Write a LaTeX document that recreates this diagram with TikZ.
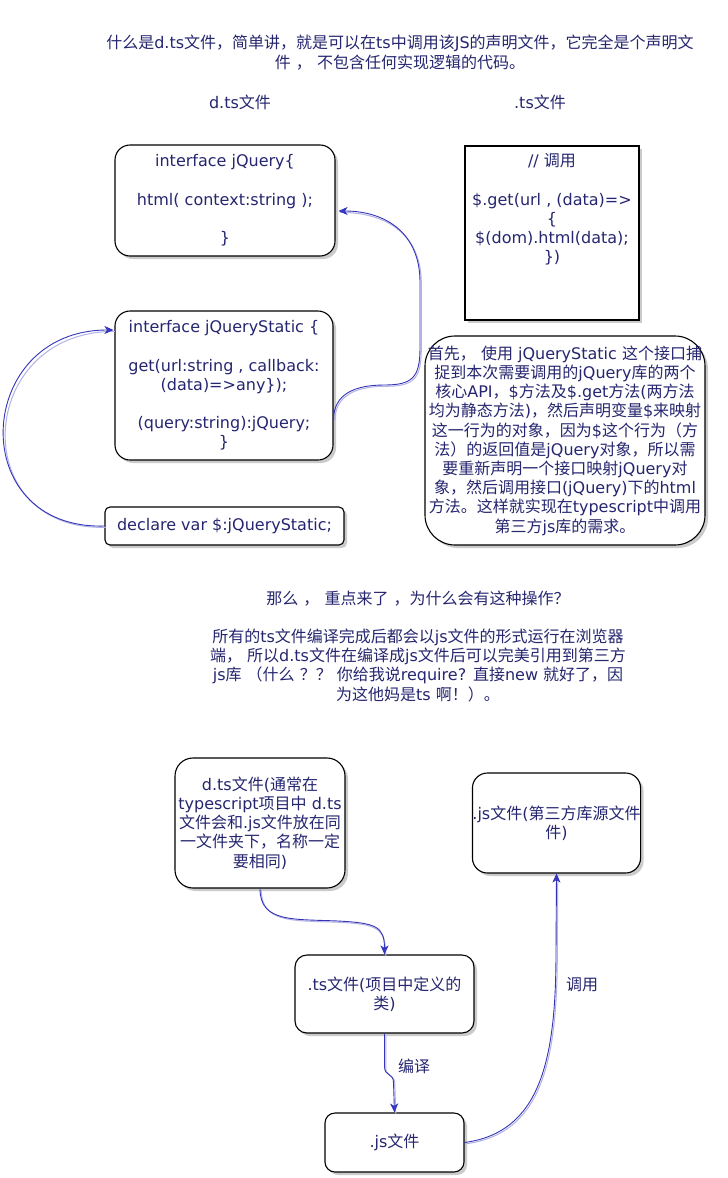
\documentclass[tikz,border=0pt]{standalone}
\usepackage{fontspec}
\setmainfont{DejaVu Sans}
\newfontfamily\cjkfont{Noto Sans CJK SC}
\newfontfamily\latinfont{DejaVu Sans}
\usetikzlibrary{arrows.meta,shadows,calc}

% automatic switching between the Latin face and the CJK face
\XeTeXinterchartokenstate=1
\newXeTeXintercharclass\CJKclass
\newcount\cjkcode
\def\setcharrange#1#2#3{\cjkcode=#1 \loop\XeTeXcharclass\cjkcode=#3\advance\cjkcode by 1 \ifnum\cjkcode<#2 \repeat}
\setcharrange{"0021}{"007F}{0}
\setcharrange{"3000}{"3040}{\CJKclass}
\setcharrange{"4E00}{"A000}{\CJKclass}
\setcharrange{"FF00}{"FFF0}{\CJKclass}
\XeTeXinterchartoks 0 \CJKclass = {\cjkfont}
\XeTeXinterchartoks 4095 \CJKclass = {\cjkfont}
\XeTeXinterchartoks \CJKclass 0 = {\latinfont}
\XeTeXinterchartoks \CJKclass 4095 = {\latinfont}

\definecolor{ink}{RGB}{38,38,112}
\definecolor{wire}{RGB}{52,52,185}
\definecolor{wireshade}{RGB}{178,178,228}
\definecolor{tipblue}{RGB}{58,58,205}

\tikzset{
  every node/.style={font=\fontsize{16}{19.2}\selectfont, text=ink, align=center, inner sep=0pt},
  shadowed/.style={drop shadow={shadow xshift=3pt, shadow yshift=-3pt, fill=black!45, opacity=.45}},
  roundbox/.style={draw=black, fill=white, line width=1.1pt, shadowed},
  sqbox/.style={draw=black, fill=white, line width=1.1pt, shadowed},
  link/.style={draw=wire, line width=0.9pt,
    -{Stealth[length=9pt,width=8pt,inset=2.5pt,fill=tipblue]},
    preaction={draw=wireshade, line width=1pt, arrows=-,
      transform canvas={xshift=1.3pt,yshift=-1.3pt}}},
}

\begin{document}
\begin{tikzpicture}[x=1pt,y=-1pt]
\fill[white] (0,0) rectangle (728,1178);
\useasboundingbox (0,0) rectangle (728,1178);

% heading texts
\node (title) at (400,52.5) {什么是d.ts文件，简单讲，就是可以在ts中调用该JS的声明文件，它完全是个声明文\\件 ， 不包含任何实现逻辑的代码。};
\node (hdts) at (240,102) {d.ts文件};
\node (hts) at (540,102) {.ts文件};

% declaration side
\node[roundbox, rounded corners=15pt, minimum width=220pt, minimum height=111pt] (jq) at (225,200.5)
  {interface jQuery\{\\[19.2pt] html( context:string );\\[19.2pt] \}};
\node[roundbox, rounded corners=15pt, minimum width=218pt, minimum height=149pt] (jqs) at (224,385.5)
  {interface jQueryStatic \{\\[19.2pt] get(url:string , callback:\\(data)=>any\});\\[19.2pt] (query:string):jQuery;\\\}};
\node[roundbox, rounded corners=5pt, minimum width=239pt, minimum height=38pt] (decl) at (224.5,526)
  {declare var \$:jQueryStatic;};

% usage side
\node[sqbox, minimum width=174pt, minimum height=174pt] (tsbox) at (552,233) {};
\node[anchor=north] (tstext) at ($(tsbox.north)+(0,8)$)
  {// 调用\\[19.2pt] \$.get(url , (data)=>\\\{\\\$(dom).html(data);\\\})};

\node[roundbox, rounded corners=30pt, minimum width=280pt, minimum height=209pt] (para) at (565,440.5)
  {首先， 使用 jQueryStatic 这个接口捕\\
   捉到本次需要调用的jQuery库的两个\\
   核心API，\$方法及\$.get方法(两方法\\
   均为静态方法)，然后声明变量\$来映射\\
   这一行为的对象，因为\$这个行为（方\\
   法）的返回值是jQuery对象，所以需\\
   要重新声明一个接口映射jQuery对\\
   象，然后调用接口(jQuery)下的html\\
   方法。这样就实现在typescript中调用\\
   第三方js库的需求。};

% explanation
\node (why) at (418,646)
  {那么 ， 重点来了 ，为什么会有这种操作？\\[19.2pt]
   所有的ts文件编译完成后都会以js文件的形式运行在浏览器\\
   端， 所以d.ts文件在编译成js文件后可以完美引用到第三方\\
   js库 （什么 ？？ 你给我说require? 直接new 就好了，因\\
   为这他妈是ts 啊！）。};

% file flow
\node[roundbox, rounded corners=18pt, minimum width=170pt, minimum height=130pt] (dts) at (260,823)
  {d.ts文件(通常在\\typescript项目中 d.ts\\文件会和.js文件放在同\\一文件夹下，名称一定\\要相同)};
\node[roundbox, rounded corners=15pt, minimum width=165pt, minimum height=100pt] (jslib) at (556.5,823)
  {.js文件(第三方库源文件\\件)};
\node[roundbox, rounded corners=12pt, minimum width=179pt, minimum height=78pt] (tsproj) at (384.5,994)
  {.ts文件(项目中定义的\\类)};
\node[roundbox, rounded corners=10pt, minimum width=139pt, minimum height=59pt] (jsout) at (394.5,1142.5)
  {.js文件};

\node (lcompile) at (414,1066) {编译};
\node (lcall) at (582,985) {调用};

% connectors
\draw[link] ($(jqs.east)+(0,34)$) .. controls +(0,-26) and +(-28,0) .. (384,385)
  .. controls +(28,0) and +(0,30) .. (420,348) -- (420,282)
  .. controls +(0,-48) and +(48,0) .. ($(jq.east)+(3,10.5)$);
\draw[link] (decl.west) .. controls +(-140,4) and +(-140,0) .. ($(jqs.west)+(-1,-55.5)$);
\draw[link] (dts.south) .. controls +(0,34) and +(-45,-2) .. (338,921)
  .. controls +(38,2) and +(0,-28) .. (tsproj.north);
\draw[link] (tsproj.south) -- ++(0,33) .. controls +(0,10) and +(0,-10) .. ++(9,16) -- (jsout.north);
\draw[link] (jsout.east) .. controls +(75,-10) and +(0,110) .. (556,952) -- (jslib.south);
\end{tikzpicture}
\end{document}
